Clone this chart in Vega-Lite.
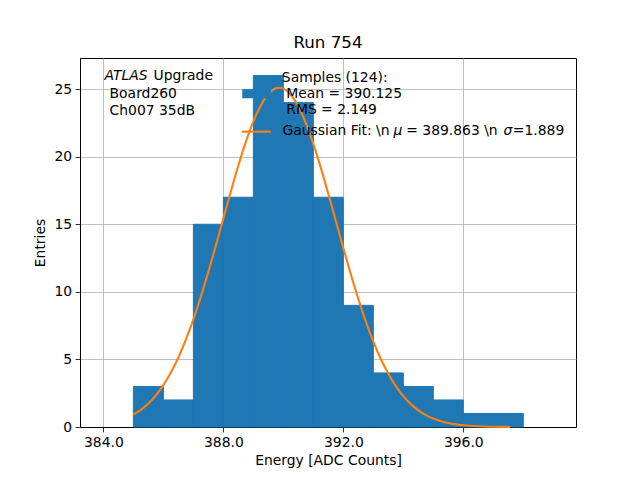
{
  "$schema": "https://vega.github.io/schema/vega-lite/v6.json",
  "width": 496,
  "height": 369,
  "autosize": {"type": "none"},
  "padding": {"left": 80, "top": 58, "right": 64, "bottom": 53},
  "background": "white",
  "title": {"text": "Run 754", "fontSize": 16.7, "fontWeight": "normal", "font": "DejaVu Sans", "color": "black", "offset": 6, "anchor": "middle"},
  "config": {
    "font": "DejaVu Sans",
    "view": {"stroke": "black", "strokeWidth": 1},
    "axis": {
      "domainColor": "black", "domainWidth": 1,
      "tickColor": "black", "tickWidth": 0.8, "tickSize": 4.9,
      "labelColor": "black", "labelFontSize": 13.9, "labelFont": "DejaVu Sans", "labelPadding": 3.5,
      "titleColor": "black", "titleFontSize": 13.9, "titleFont": "DejaVu Sans", "titleFontWeight": "normal",
      "grid": true, "gridColor": "#b0b0b0", "gridWidth": 0.8, "gridOpacity": 1,
      "zindex": 1
    }
  },
  "layer": [
    {
      "data": {"values": [
        {"bin0": 385, "bin1": 386, "count": 3},
        {"bin0": 386, "bin1": 387, "count": 2},
        {"bin0": 387, "bin1": 388, "count": 15},
        {"bin0": 388, "bin1": 389, "count": 17},
        {"bin0": 389, "bin1": 390, "count": 26},
        {"bin0": 390, "bin1": 391, "count": 24},
        {"bin0": 391, "bin1": 392, "count": 17},
        {"bin0": 392, "bin1": 393, "count": 9},
        {"bin0": 393, "bin1": 394, "count": 4},
        {"bin0": 394, "bin1": 395, "count": 3},
        {"bin0": 395, "bin1": 396, "count": 2},
        {"bin0": 396, "bin1": 397, "count": 1},
        {"bin0": 397, "bin1": 398, "count": 1}
      ]},
      "mark": {"type": "rect", "color": "#1f77b4", "stroke": "#1f77b4", "strokeWidth": 1},
      "encoding": {
        "x": {"field": "bin0", "type": "quantitative",
              "scale": {"domain": [383.22, 399.757], "nice": false, "zero": false},
              "axis": {"values": [384, 388, 392, 396], "format": ".1f", "title": "Energy [ADC Counts]", "titlePadding": 4}},
        "x2": {"field": "bin1"},
        "y": {"field": "count", "type": "quantitative",
              "scale": {"domain": [0, 27.3], "nice": false, "zero": true},
              "axis": {"values": [0, 5, 10, 15, 20, 25], "title": "Entries", "titlePadding": 6}},
        "y2": {"datum": 0}
      }
    },
    {
      "data": {"values": [
        {"e": 385, "g": 0.913}, {"e": 385.25, "g": 1.273}, {"e": 385.5, "g": 1.743}, {"e": 385.75, "g": 2.345},
        {"e": 386, "g": 3.102}, {"e": 386.25, "g": 4.03}, {"e": 386.5, "g": 5.145}, {"e": 386.75, "g": 6.456},
        {"e": 387, "g": 7.958}, {"e": 387.25, "g": 9.642}, {"e": 387.5, "g": 11.478}, {"e": 387.75, "g": 13.427},
        {"e": 388, "g": 15.434}, {"e": 388.25, "g": 17.431}, {"e": 388.5, "g": 19.347}, {"e": 388.75, "g": 21.1},
        {"e": 389, "g": 22.613}, {"e": 389.25, "g": 23.813}, {"e": 389.5, "g": 24.641}, {"e": 389.75, "g": 25.055},
        {"e": 389.863, "g": 25.1}, {"e": 390, "g": 25.034}, {"e": 390.25, "g": 24.579}, {"e": 390.5, "g": 23.713},
        {"e": 390.75, "g": 22.48}, {"e": 391, "g": 20.941}, {"e": 391.25, "g": 19.169}, {"e": 391.5, "g": 17.243},
        {"e": 391.75, "g": 15.24}, {"e": 392, "g": 13.236}, {"e": 392.25, "g": 11.297}, {"e": 392.5, "g": 9.474},
        {"e": 392.75, "g": 7.807}, {"e": 393, "g": 6.321}, {"e": 393.25, "g": 5.03}, {"e": 393.5, "g": 3.933},
        {"e": 393.75, "g": 3.022}, {"e": 394, "g": 2.281}, {"e": 394.25, "g": 1.692}, {"e": 394.5, "g": 1.234},
        {"e": 394.75, "g": 0.884}, {"e": 395, "g": 0.622}, {"e": 395.25, "g": 0.43}, {"e": 395.5, "g": 0.292},
        {"e": 395.75, "g": 0.195}, {"e": 396, "g": 0.128}, {"e": 396.5, "g": 0.052}, {"e": 397, "g": 0.02},
        {"e": 397.56, "g": 0.006}
      ]},
      "mark": {"type": "line", "color": "#ff7f0e", "strokeWidth": 2.1, "interpolate": "monotone"},
      "encoding": {
        "x": {"field": "e", "type": "quantitative"},
        "y": {"field": "g", "type": "quantitative"}
      }
    },
    {
      "data": {"values": [{}]},
      "mark": {"type": "rect", "color": "#1f77b4"},
      "encoding": {
        "x": {"datum": 388.63, "type": "quantitative"},
        "x2": {"datum": 389.58},
        "y": {"datum": 25.0, "type": "quantitative"},
        "y2": {"datum": 24.32}
      }
    },
    {
      "data": {"values": [{}]},
      "mark": {"type": "rule", "color": "#ff7f0e", "strokeWidth": 2.1},
      "encoding": {
        "x": {"datum": 388.61, "type": "quantitative"},
        "x2": {"datum": 389.58},
        "y": {"datum": 21.85, "type": "quantitative"}
      }
    },
    {
      "data": {"values": [{"t": "ATLAS"}]},
      "mark": {"type": "text", "align": "left", "baseline": "alphabetic", "fontSize": 13.9, "fontStyle": "italic", "color": "black"},
      "encoding": {
        "x": {"datum": 384.04, "type": "quantitative"},
        "y": {"datum": 25.673, "type": "quantitative"},
        "text": {"field": "t"}
      }
    },
    {
      "data": {"values": [{"t": "Upgrade"}]},
      "mark": {"type": "text", "align": "left", "baseline": "alphabetic", "fontSize": 13.9, "dx": 49, "color": "black"},
      "encoding": {
        "x": {"datum": 384.04, "type": "quantitative"},
        "y": {"datum": 25.673, "type": "quantitative"},
        "text": {"field": "t"}
      }
    },
    {
      "data": {"values": [{"t": "Board260\nCh007 35dB"}]},
      "mark": {"type": "text", "align": "left", "baseline": "alphabetic", "fontSize": 13.9, "lineBreak": "\n", "lineHeight": 17.5, "dx": 4.4, "color": "black"},
      "encoding": {
        "x": {"datum": 384.06, "type": "quantitative"},
        "y": {"datum": 24.364, "type": "quantitative"},
        "text": {"field": "t"}
      }
    },
    {
      "data": {"values": [{"t": "Samples (124):"}]},
      "mark": {"type": "text", "align": "left", "baseline": "alphabetic", "fontSize": 13.9, "color": "black"},
      "encoding": {
        "x": {"datum": 389.95, "type": "quantitative"},
        "y": {"datum": 25.547, "type": "quantitative"},
        "text": {"field": "t"}
      }
    },
    {
      "data": {"values": [{"t": "Mean = 390.125\nRMS = 2.149"}]},
      "mark": {"type": "text", "align": "left", "baseline": "alphabetic", "fontSize": 13.9, "lineBreak": "\n", "lineHeight": 16.3, "dx": 4.4, "color": "black"},
      "encoding": {
        "x": {"datum": 389.95, "type": "quantitative"},
        "y": {"datum": 24.341, "type": "quantitative"},
        "text": {"field": "t"}
      }
    },
    {
      "data": {"values": [{"t": "Gaussian Fit: \\n"}]},
      "mark": {"type": "text", "align": "left", "baseline": "alphabetic", "fontSize": 13.9, "color": "black"},
      "encoding": {
        "x": {"datum": 389.973, "type": "quantitative"},
        "y": {"datum": 21.58, "type": "quantitative"},
        "text": {"field": "t"}
      }
    },
    {
      "data": {"values": [{"t": "μ"}]},
      "mark": {"type": "text", "align": "left", "baseline": "alphabetic", "fontSize": 13.9, "fontStyle": "italic", "dx": 111, "color": "black"},
      "encoding": {
        "x": {"datum": 389.973, "type": "quantitative"},
        "y": {"datum": 21.58, "type": "quantitative"},
        "text": {"field": "t"}
      }
    },
    {
      "data": {"values": [{"t": "= 389.863 \\n"}]},
      "mark": {"type": "text", "align": "left", "baseline": "alphabetic", "fontSize": 13.9, "dx": 123.7, "color": "black"},
      "encoding": {
        "x": {"datum": 389.973, "type": "quantitative"},
        "y": {"datum": 21.58, "type": "quantitative"},
        "text": {"field": "t"}
      }
    },
    {
      "data": {"values": [{"t": "σ"}]},
      "mark": {"type": "text", "align": "left", "baseline": "alphabetic", "fontSize": 13.9, "fontStyle": "italic", "dx": 221, "color": "black"},
      "encoding": {
        "x": {"datum": 389.973, "type": "quantitative"},
        "y": {"datum": 21.58, "type": "quantitative"},
        "text": {"field": "t"}
      }
    },
    {
      "data": {"values": [{"t": "=1.889"}]},
      "mark": {"type": "text", "align": "left", "baseline": "alphabetic", "fontSize": 13.9, "dx": 230.3, "color": "black"},
      "encoding": {
        "x": {"datum": 389.973, "type": "quantitative"},
        "y": {"datum": 21.58, "type": "quantitative"},
        "text": {"field": "t"}
      }
    }
  ]
}
